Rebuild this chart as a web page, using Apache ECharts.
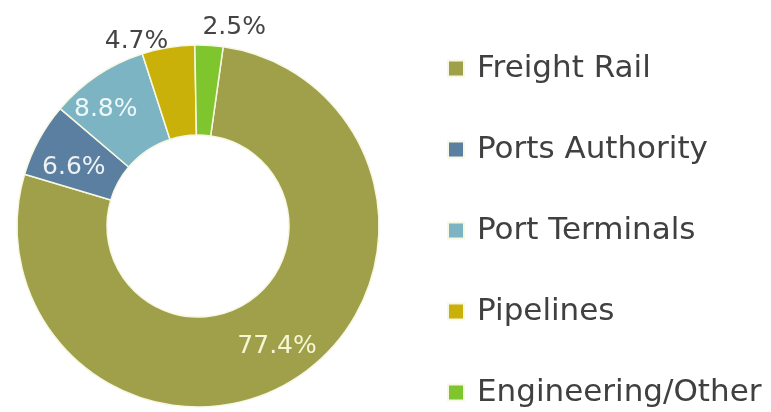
<!DOCTYPE html>
<html>
<head>
<meta charset="utf-8">
<script src="https://cdn.jsdelivr.net/npm/echarts@6/dist/echarts.min.js"></script>
<style>
  html, body { margin: 0; padding: 0; background: #ffffff; }
  #chart { width: 771px; height: 412px; }
</style>
</head>
<body>
<div id="chart"></div>
<script>
// Share of spending by segment (percent)
const categories = ['Freight Rail', 'Ports Authority', 'Port Terminals', 'Pipelines', 'Engineering/Other'];
const shares = [77.4, 6.6, 8.8, 4.7, 2.5];
const colors = ['#9fa049', '#5b7fa0', '#7db4c4', '#c9b10a', '#7ec52e'];
// Small slices carry their labels outside the ring
const outsideLabel = [false, false, false, true, true];
const labelColors = ['#f6f6d6', '#eef2f6', '#eef8f8', '#444444', '#444444'];
// Nudges applied to individual labels after layout
const labelNudge = [[4, 4], [-2, 8], [-15, -1], [6, 0], [-12, -12]];

const font = '"DejaVu Sans", Verdana, sans-serif';

const data = categories.map((name, i) => ({
  name: name,
  value: shares[i],
  itemStyle: { color: colors[i] },
  label: outsideLabel[i]
    ? { position: 'outside', color: labelColors[i] }
    : { position: 'inside', color: labelColors[i] },
  labelLine: { show: false, length: 6, length2: 0 }
}));

const chart = echarts.init(document.getElementById('chart'), null, { renderer: 'canvas' });
chart.setOption({
  animation: false,
  backgroundColor: '#ffffff',
  legend: {
    orient: 'vertical',
    left: 442,
    top: 48,
    height: 400,
    itemWidth: 16,
    itemHeight: 16,
    itemGap: 50,
    icon: 'rect',
    data: categories,
    textStyle: {
      fontFamily: font,
      fontSize: 31,
      lineHeight: 30,
      color: '#404040',
      padding: [0, 0, 0, 8]
    }
  },
  series: [{
    type: 'pie',
    center: [198, 226],
    radius: [91, 181],
    startAngle: 82,
    clockwise: true,
    avoidLabelOverlap: false,
    data: data,
    itemStyle: { borderColor: '#f7f8e4', borderWidth: 1.5 },
    label: {
      show: true,
      fontFamily: font,
      fontSize: 25,
      formatter: p => p.value.toFixed(1) + '%'
    },
    labelLayout: p => ({ dx: labelNudge[p.dataIndex][0], dy: labelNudge[p.dataIndex][1] }),
    emphasis: { disabled: true }
  }]
});
</script>
</body>
</html>
